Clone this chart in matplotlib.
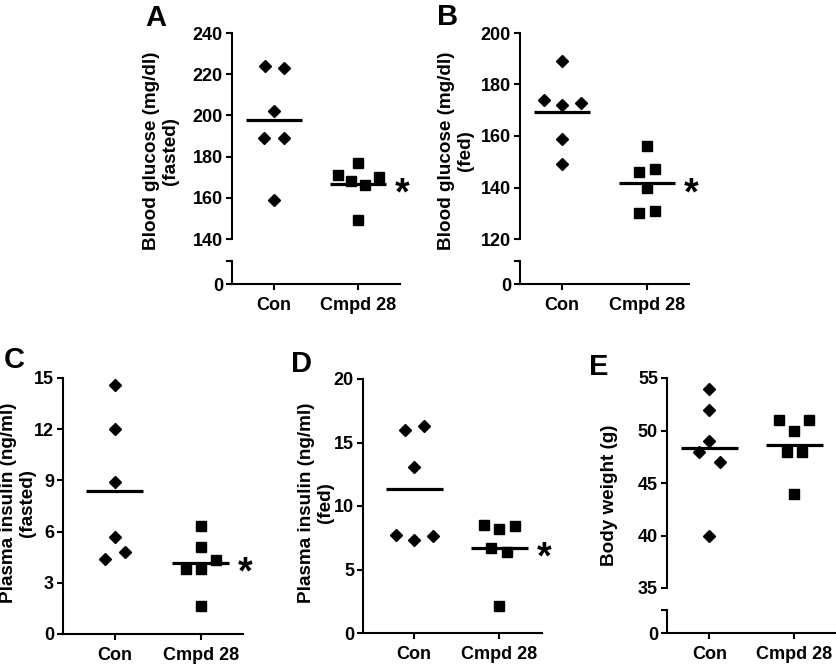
import numpy as np
import matplotlib
matplotlib.use("Agg")
import matplotlib.pyplot as plt

plt.rcParams["font.family"] = ["Liberation Sans", "DejaVu Sans"]
plt.rcParams["font.weight"] = "bold"

# ---------------- data ----------------
groups = ["Con", "Cmpd 28"]

glc_fasted_con = [224, 223, 202, 189, 189, 159]
glc_fasted_cmpd = [171, 177, 168, 166, 170, 149]

glc_fed_con = [189, 174, 172, 173, 159, 149]
glc_fed_cmpd = [156, 146, 147, 140, 130, 131]

ins_fasted_con = [14.6, 12.0, 8.9, 5.7, 4.4, 4.8]
ins_fasted_cmpd = [6.35, 5.1, 3.8, 3.8, 4.35, 1.65]

ins_fed_con = [16.0, 16.3, 13.1, 7.7, 7.35, 7.6]
ins_fed_cmpd = [8.5, 8.2, 8.4, 6.7, 6.4, 2.1]

bw_con = [54, 52, 49, 48, 47, 40]
bw_cmpd = [51, 51, 50, 48, 48, 44]

# horizontal scatter offsets (category units), same order as the values
jit_A = ([-0.11, 0.12, 0, -0.115, 0.12, 0], [-0.243, 0, -0.084, 0.088, 0.255, 0])
jit_B = ([0, -0.22, 0, 0.22, 0, 0], [0, -0.092, 0.092, 0, -0.092, 0.092])
jit_C = ([0, 0, 0, 0, -0.113, 0.12], [0, 0, -0.175, 0, 0.18, 0])
jit_D = ([-0.106, 0.118, 0, -0.216, 0, 0.22], [-0.176, 0, 0.18, -0.094, 0.09, 0])
jit_E = ([0, 0, 0, -0.118, 0.118, 0], [-0.18, 0.17, 0, -0.09, 0.09, 0])

W, H = 837, 672
fig = plt.figure(figsize=(W / 100, H / 100), dpi=100)

LW = 1.5
FS = 13
LAB_FS = 13.6


def px_axes(l, t, r, b):
    return fig.add_axes([l / W, 1 - b / H, (r - l) / W, (b - t) / H])


def style(ax, bottom):
    for s in ["top", "right"]:
        ax.spines[s].set_visible(False)
    ax.spines["left"].set_linewidth(LW)
    ax.spines["bottom"].set_linewidth(LW)
    ax.spines["bottom"].set_visible(bottom)
    ax.tick_params(direction="out", length=4.5, width=LW, labelsize=FS, pad=2)
    if bottom:
        ax.set_xticks([0, 1])
        ax.set_xticklabels(groups, fontsize=FS, fontweight="bold")
        ax.tick_params(axis="x", pad=5)
    else:
        ax.set_xticks([])
    for lab in ax.get_yticklabels():
        lab.set_fontweight("bold")


def draw_points(ax, con, cmpd, jit):
    for i, (vals, mk, ms) in enumerate([(con, "D", 6.0), (cmpd, "s", 7.0)]):
        xs = i + np.array(jit[i])
        ax.plot(xs, vals, linestyle="none", marker=mk, ms=ms, color="black", clip_on=False)
        m = np.mean(vals)
        ax.plot([i - 0.333, i + 0.333], [m, m], color="black", lw=2.3, solid_capstyle="butt",
                clip_on=False)


def star(ax, x, y):
    ax.annotate("*", xy=(x, y), xytext=(0, -15), textcoords="offset points",
                fontsize=27, fontweight="bold", ha="center", va="baseline",
                annotation_clip=False)


def panel(letter, lx, ly, label, labx, laby, main_box, lo_box, xlim, ylim, yticks,
          con, cmpd, jit, sig):
    l, t, r, b = main_box
    ax = px_axes(l, t, r, b)
    ax.set_xlim(*xlim)
    ax.set_ylim(*ylim)
    ax.set_yticks(yticks)
    ax.set_yticklabels([str(v) for v in yticks])
    draw_points(ax, con, cmpd, jit)
    if lo_box is not None:
        style(ax, False)
        lo = px_axes(*lo_box)
        lo.set_xlim(*xlim)
        lo.set_ylim(0, 1)
        lo.set_yticks([0, 1])
        lo.set_yticklabels(["0", ""])
        style(lo, True)
    else:
        style(ax, True)
    if sig:
        star(ax, 1.52, np.mean(cmpd))
    fig.text(lx / W, 1 - ly / H, letter, fontsize=21, fontweight="bold", ha="center", va="center")
    fig.text(labx / W, 1 - laby / H, label, fontsize=LAB_FS, fontweight="bold", rotation=90,
             ha="center", va="center", multialignment="center", linespacing=1.12)


panel("A", 156, 18, "Blood glucose (mg/dl)\n(fasted)", 161, 151,
      (232, 33, 400, 239), (232, 261, 400, 284), (-0.5, 1.5), (140, 240),
      [140, 160, 180, 200, 220, 240], glc_fasted_con, glc_fasted_cmpd, jit_A, True)

panel("B", 448, 17, "Blood glucose (mg/dl)\n(fed)", 456, 151,
      (520, 33, 689, 239), (520, 261, 689, 284), (-0.5, 1.5), (120, 200),
      [120, 140, 160, 180, 200], glc_fed_con, glc_fed_cmpd, jit_B, True)

panel("C", 14, 360, "Plasma insulin (ng/ml)\n(fasted)", 18, 503,
      (63, 378, 243, 634), None, (-0.6, 1.49), (0, 15),
      [0, 3, 6, 9, 12, 15], ins_fasted_con, ins_fasted_cmpd, jit_C, True)

panel("D", 302, 364, "Plasma insulin (ng/ml)\n(fed)", 316, 503,
      (363, 379, 542, 633), None, (-0.6, 1.5), (0, 20),
      [0, 5, 10, 15, 20], ins_fed_con, ins_fed_cmpd, jit_D, True)

panel("E", 599, 367, "Body weight (g)", 610, 495,
      (667, 378, 837, 588), (667, 610, 837, 633), (-0.5, 1.5), (35, 55),
      [35, 40, 45, 50, 55], bw_con, bw_cmpd, jit_E, False)

fig.savefig("out.png", dpi=100)
